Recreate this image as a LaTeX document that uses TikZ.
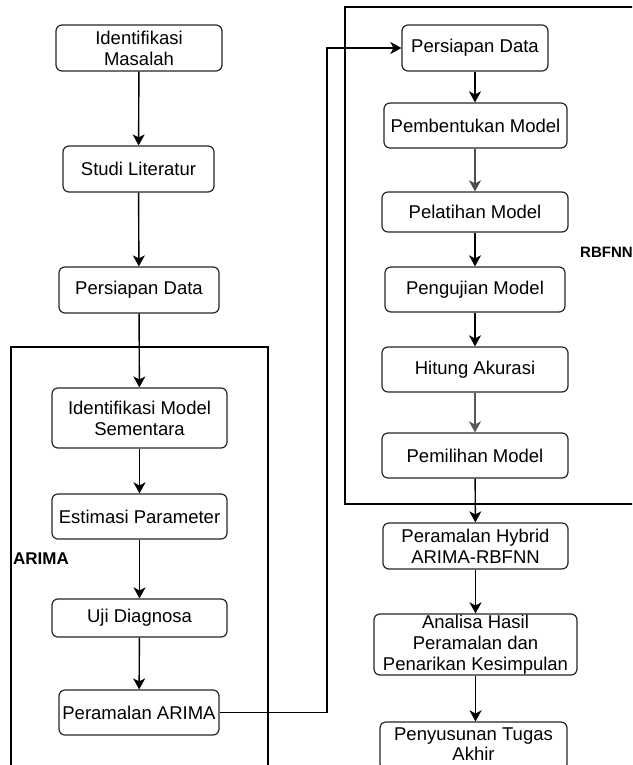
\documentclass[tikz,border=0pt]{standalone}
\usepackage{fontspec}
\setmainfont{Liberation Sans}
\usetikzlibrary{arrows.meta}
\begin{document}
\begin{tikzpicture}[x=1pt,y=-1pt,
  box/.style={draw=black!85, line width=1.2pt, rounded corners=6pt, align=center, inner sep=0pt,
    font=\fontsize{18.5}{21}\selectfont},
  arr/.style={line width=1.4pt, -{Stealth[length=11pt,width=12pt,inset=3pt]}},
  grp/.style={draw=black, line width=1.2pt},
  lbl/.style={font=\bfseries\fontsize{17}{20}\selectfont, inner sep=0pt}]
\clip (0,0) rectangle (632,765);
\fill[white] (0,0) rectangle (632,765);
% containers
\draw[grp] (11,800) -- (11,347) -- (268,347) -- (268,800);
\draw[grp] (660,504) -- (345,504) -- (345,7) -- (660,7);
\node[lbl, anchor=west] (arima) at (13,559) {ARIMA};
\node[lbl, anchor=west, font=\bfseries\fontsize{15}{17}\selectfont] (rbf) at (580,252) {RBFNN};
% left column
\node[box, minimum width=166, minimum height=46] (im) at (139,48) {Identifikasi\\Masalah};
\node[box, minimum width=151, minimum height=46] (sl) at (138.5,169) {Studi Literatur};
\node[box, minimum width=160, minimum height=46] (pd) at (139,290) {Persiapan Data};
\node[box, minimum width=175, minimum height=60] (ims) at (139.5,418) {Identifikasi Model\\Sementara};
\node[box, minimum width=175, minimum height=45] (ep) at (139.5,516.5) {Estimasi Parameter};
\node[box, minimum width=175, minimum height=38] (ud) at (139.5,618) {Uji Diagnosa};
\node[box, minimum width=160, minimum height=45] (pa) at (139,712.5) {Peramalan ARIMA};
% right column
\node[box, minimum width=146, minimum height=46] (pd2) at (475,48) {Persiapan Data};
\node[box, minimum width=183, minimum height=45] (pm) at (475.5,125.5) {Pembentukan Model};
\node[box, minimum width=186, minimum height=40] (pl) at (475,212) {Pelatihan Model};
\node[box, minimum width=180, minimum height=45] (pu) at (475,289.5) {Pengujian Model};
\node[box, minimum width=186, minimum height=45] (ha) at (475,369.5) {Hitung Akurasi};
\node[box, minimum width=186, minimum height=45] (pem) at (475,455.5) {Pemilihan Model};
\node[box, minimum width=185, minimum height=46] (ph) at (475.5,546) {Peramalan Hybrid\\ARIMA-RBFNN};
\node[box, minimum width=203, minimum height=61] (ah) at (475.5,644.5) {Analisa Hasil\\Peramalan dan\\Penarikan Kesimpulan};
\node[box, minimum width=187, minimum height=48] (pt) at (473.5,746) {};
\node[font=\fontsize{18.5}{20}\selectfont, align=center, inner sep=0pt] (ptt) at (473.5,744) {Penyusunan Tugas\\Akhir};
% connectors
\coordinate (bend) at (327,0);
\draw[arr] (im) -- (sl);
\draw[arr] (sl) -- (pd);
\draw[arr] (pd) -- (ims);
\draw[arr] (ims) -- (ep);
\draw[arr] (ep) -- (ud);
\draw[arr] (ud) -- (pa);
\draw[arr] (pa.east) -- (pa.east -| bend) |- (pd2.west);
\draw[arr] (pd2) -- (pd2 |- pm.north);
\draw[arr, draw=black!70] (pm.south -| pd2) -- (pd2 |- pl.north);
\draw[arr] (pl) -- (pu);
\draw[arr] (pu) -- (ha);
\draw[arr, draw=black!65] (ha) -- (pem);
\draw[arr] (pem) -- (ph);
\draw[arr] (ph) -- (ah);
\draw[arr] (ah) -- (ah.south |- pt.north);
\end{tikzpicture}
\end{document}
